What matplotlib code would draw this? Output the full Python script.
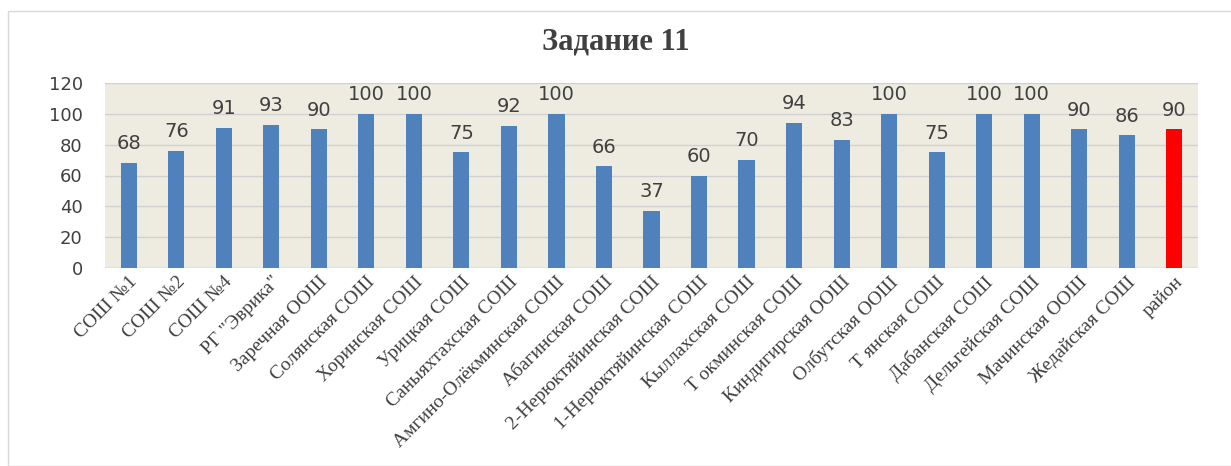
import matplotlib.pyplot as plt
from matplotlib.patches import Rectangle

schools = ["СОШ №1", "СОШ №2", "СОШ №4", "РГ \"Эврика\"", "Заречная ООШ", "Солянская СОШ",
           "Хоринская СОШ", "Урицкая СОШ", "Саныяхтахская СОШ", "Амгино-Олёкминская СОШ",
           "Абагинская СОШ", "2-Нерюктяйинская СОШ", "1-Нерюктяйинская СОШ", "Кыллахская СОШ",
           "Т окминская СОШ", "Киндигирская ООШ", "Олбутская ООШ", "Т янская СОШ",
           "Дабанская СОШ", "Дельгейская СОШ", "Мачинская ООШ", "Жедайская СОШ", "район"]
scores = [68, 76, 91, 93, 90, 100, 100, 75, 92, 100, 66, 37, 60, 70, 94, 83, 100, 75, 100, 100, 90, 86, 90]

colors = ["#4F81BD"] * (len(scores) - 1) + ["#FF0000"]

fig = plt.figure(figsize=(12.31, 4.66), dpi=100)
ax = fig.add_axes([105 / 1231, 1 - 268 / 466, 1093 / 1231, 185 / 466])

fig.patches.append(Rectangle((8 / 1231, 0), 1, 1 - 11 / 466, transform=fig.transFigure,
                             fill=False, edgecolor="#D9D9D9", linewidth=1))

x = range(len(scores))
ax.set_facecolor("#EEECE1")
ax.bar(x, scores, width=0.34, color=colors, zorder=3)
for i, v in enumerate(scores):
    ax.annotate(str(v), (i, v), xytext=(0, 7), textcoords="offset points",
                ha="center", va="bottom", fontsize=14, color="#404040", family="DejaVu Sans")

ax.set_xlim(-0.5, len(scores) - 0.5)
ax.set_ylim(0, 120)
ax.set_yticks(range(0, 121, 20))
ax.yaxis.grid(True, color="#D0D0D0", linewidth=1, zorder=0)
ax.tick_params(axis="y", length=0, pad=16, labelsize=13, labelcolor="#404040")
ax.tick_params(axis="x", length=0, pad=4)
for s in ax.spines.values():
    s.set_visible(False)
ax.axhline(0, color="#D0D0D0", linewidth=1, zorder=2)

ax.set_xticks(list(x))
ax.set_xticklabels(schools, rotation=45, ha="right", rotation_mode="anchor",
                   fontsize=14, color="#404040", family="Liberation Serif")

fig.text(0.5, 1 - 42 / 466, "Задание 11", ha="center", va="center", fontsize=22,
         fontweight="bold", color="#404040", family="Liberation Serif")

fig.savefig("out.png", dpi=100)
